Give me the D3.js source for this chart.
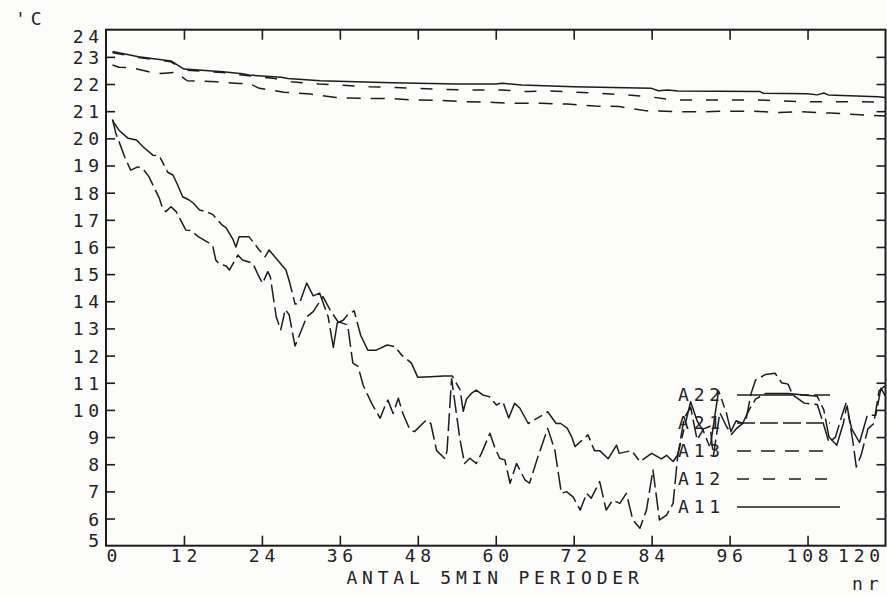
<!DOCTYPE html>
<html lang="en">
<head>
<meta charset="UTF-8">
<title>Temperatur A11 - A22</title>
<script src="https://d3js.org/d3.v7.min.js"></script>
<style>
  body { margin: 0; background: #fcfcfb; }
  svg { display: block; }
  text {
    font-family: "DejaVu Sans Mono", monospace;
    font-size: 18px;
    fill: #222;
    letter-spacing: 4.8px;
  }
  .frame { fill: none; stroke: #1c1c1c; stroke-width: 2; }
  .axis path { display: none; }
  .axis line { stroke: #1c1c1c; stroke-width: 1.6; }
  .series { fill: none; stroke: #1c1c1c; stroke-width: 1.5; stroke-linejoin: round; }
</style>
</head>
<body>
<div id="chart"></div>
<script>
// tick labels
const xTicks = [0, 12, 24, 36, 48, 60, 72, 84, 96, 108, 120];
const yTicks = [5, 6, 7, 8, 9, 10, 11, 12, 13, 14, 15, 16, 17, 18, 19, 20, 21, 22, 23, 24];

// series names in legend order
const names = ["A22", "A21", "A13", "A12", "A11"];

// [period, temperature]
const a11 = [[1,23.2],[5,23.0],[10,22.85],[12,22.55],[18,22.45],[21,22.38],[22,22.33],[27,22.25],[28,22.2],[33,22.12],[44,22.05],[54,22.0],[60,22.0],[61,22.03],[64,21.96],[72,21.9],[84,21.84],[85,21.75],[86.5,21.78],[88,21.74],[100.7,21.72],[101.2,21.66],[108,21.64],[109.5,21.6],[110.5,21.67],[111.2,21.6],[118.8,21.53],[120,21.5]];

const a12 = [[1,23.15],[5,22.98],[10,22.82],[12,22.52],[18,22.42],[22,22.3],[24,22.25],[26,22.2],[28.5,22.08],[32.8,22.0],[36,21.96],[40.5,21.9],[44.6,21.87],[48.2,21.84],[52.3,21.8],[56,21.78],[60.8,21.78],[65,21.72],[68,21.75],[72,21.7],[76,21.66],[80,21.6],[84,21.52],[87.6,21.41],[92,21.41],[96,21.41],[100,21.42],[103.4,21.38],[107.3,21.35],[111.3,21.35],[115.4,21.35],[120,21.33]];

const a13 = [[1,22.7],[2,22.62],[4,22.6],[6.6,22.45],[8.5,22.39],[10.8,22.43],[12.5,22.12],[15,22.1],[17,22.08],[20.5,22.02],[22,22.03],[23.6,21.84],[27.4,21.7],[31.5,21.63],[35.4,21.5],[39.5,21.47],[43.6,21.47],[47.4,21.41],[51.5,21.4],[55.6,21.35],[59.8,21.32],[63,21.29],[67,21.29],[71,21.26],[75.3,21.19],[79,21.17],[83,21.02],[87.6,20.98],[91.8,20.98],[95.6,21.0],[99.8,21.0],[103.6,20.95],[107,20.98],[111.5,20.93],[115.3,20.88],[120,20.82]];

const a21 = [[1,20.7],[1.5,20.2],[2.9,19.3],[3.8,18.83],[4.9,18.95],[5.6,18.9],[6.6,18.59],[8.2,17.8],[8.6,17.5],[9.2,17.3],[10,17.48],[10.8,17.3],[12.3,16.62],[13.1,16.6],[13.6,16.5],[14.2,16.38],[15.1,16.25],[16.4,16.07],[16.9,15.52],[17.4,15.38],[18.5,15.3],[19,15.15],[20.3,15.7],[21,15.52],[22.6,15.4],[23.3,15.03],[24.1,14.66],[24.9,15.09],[25.3,14.9],[26.2,13.43],[26.9,12.95],[27.6,13.7],[28.2,13.5],[29.1,12.35],[30.1,12.94],[30.9,13.43],[31.9,13.62],[33.4,14.17],[34.5,13.68],[35.7,13.25],[37.2,13.13],[38,11.72],[38.8,11.6],[39.6,10.9],[40.9,10.24],[42.2,9.69],[42.9,10.12],[43.4,10.36],[44.2,9.87],[45,10.43],[45.7,9.87],[46.8,9.26],[47.5,9.2],[49.3,9.63],[50,9.5],[50.9,8.5],[52.2,8.2],[52.5,8.5],[53.2,11.15],[54.5,8.9],[55.2,8.03],[56,8.22],[57,8.03],[57.8,8.4],[59.1,9.14],[59.8,8.65],[60.6,8.22],[61.4,8.16],[62.2,7.3],[63.2,8.03],[64.5,7.42],[65.2,7.3],[66.5,8.28],[68,9.32],[69.1,8.52],[70.1,6.93],[70.9,6.99],[71.9,6.8],[73,6.31],[74,6.93],[74.7,6.75],[76,7.36],[77,6.31],[78,6.68],[79.1,6.56],[80.1,6.93],[81.1,5.95],[82.2,5.64],[83.2,6.31],[84.2,7.79],[85.2,5.95],[86.3,6.13],[87.3,6.56],[88,8.28],[89,9.7],[90,10.1],[91,8.9],[92,9.3],[93,9.4],[93.5,8.3],[94.5,9.9],[95.5,9.4],[96.3,9.1],[97,9.3],[98.5,9.6],[99.3,10.6],[100,11.1],[101.5,11.3],[103,11.35],[104,11.0],[105,10.95],[105.7,10.55],[107.5,10.25],[109.5,10.2],[110.3,9.6],[111.3,8.8],[112.3,9.0],[113.3,9.8],[114,10.3],[115,8.8],[115.5,7.9],[116.2,8.3],[117.3,9.3],[118.2,9.5],[119,10.7],[120,10.9]];

const a22 = [[1,20.65],[2,20.3],[3.4,20.0],[4.7,19.94],[5.7,19.69],[7.2,19.38],[8.2,19.35],[8.8,19.08],[9.5,18.75],[10.3,18.65],[11,18.3],[11.8,17.85],[12.8,17.73],[13.5,17.6],[14.4,17.36],[15.4,17.3],[16.4,17.2],[17.9,16.8],[18.5,16.7],[19.5,16.3],[20,16.0],[20.5,16.38],[22,16.38],[23.6,15.89],[24.5,15.64],[25.1,15.89],[27.7,15.15],[28.3,14.67],[29.1,13.9],[29.8,13.93],[30.9,14.67],[31.9,14.2],[32.9,14.3],[34.2,13.43],[35,12.3],[35.6,13.2],[36.5,13.3],[37.2,13.5],[38.2,13.65],[39.2,12.75],[40.3,12.2],[41.6,12.2],[43.3,12.39],[44.5,12.33],[45.5,12.02],[47,11.73],[48,11.2],[50,11.22],[52,11.25],[53.3,11.25],[54.5,10.75],[55,9.95],[55.5,10.4],[56.3,10.62],[57,10.73],[58,10.55],[59,10.49],[60.1,10.18],[61.1,10.3],[62,9.7],[62.9,10.24],[63.7,10.07],[65,9.5],[66.8,9.75],[68,9.93],[69.3,9.5],[70,9.5],[71,9.33],[71.7,9.0],[72.2,8.65],[74.2,9.08],[75.2,8.5],[76,8.5],[77.3,8.2],[78.6,8.7],[79,8.4],[80.9,8.5],[82.2,8.1],[84,8.4],[85.5,8.2],[86.3,8.33],[87.3,8.1],[88,8.34],[89,9.3],[90,10.3],[91,9.6],[92,9.2],[93,8.6],[94.3,10.7],[95.5,9.9],[96.2,9.2],[97,9.6],[98,9.5],[99,10.0],[100,10.4],[101.5,10.6],[105,10.6],[109.5,10.5],[110.5,10.0],[111.3,9.0],[112.5,8.7],[113.5,9.5],[114,10.1],[114.8,9.3],[116,8.8],[117.2,9.8],[118.5,9.8],[119.3,10.8],[120,10.5]];

const seriesData = { A22: a22, A21: a21, A13: a13, A12: a12, A11: a11 };
// plotter pen patterns
const dashes = { A22: "58,5,9,5", A21: "18,5", A13: "14,10", A12: "12,14", A11: null };

const width = 887, height = 595;
const margin = { top: 29.7, right: 1.5, bottom: 49.3, left: 106 };

const svg = d3.select("#chart").append("svg")
    .attr("width", width)
    .attr("height", height);

const x = d3.scaleLinear().domain([0, 120]).range([margin.left, width - margin.right]);
const y = d3.scaleLinear().domain([5, 24]).range([height - margin.bottom, margin.top]);

// frame
svg.append("rect")
    .attr("class", "frame")
    .attr("x", x(0)).attr("y", y(24))
    .attr("width", x(120) - x(0)).attr("height", y(5) - y(24));

// left axis, ticks pointing in
const yAxisL = svg.append("g")
    .attr("class", "axis")
    .attr("transform", `translate(${x(0)},0)`)
    .call(d3.axisLeft(y).tickValues(yTicks).tickSize(-9).tickPadding(2));
yAxisL.selectAll(".tick line").filter(d => d === 5 || d === 24).remove();
// top and bottom labels are pushed inside like on the plotter
yAxisL.selectAll(".tick text")
    .attr("dy", d => d === 24 ? "0.71em" : d === 5 ? "0.04em" : "0.36em");

// right axis
const yAxisR = svg.append("g")
    .attr("class", "axis")
    .attr("transform", `translate(${x(120)},0)`)
    .call(d3.axisRight(y).tickValues(yTicks).tickSize(-9).tickFormat(""));
yAxisR.selectAll(".tick line").filter(d => d === 5 || d === 24).remove();

// bottom axis
const xAxisB = svg.append("g")
    .attr("class", "axis")
    .attr("transform", `translate(0,${y(5)})`)
    .call(d3.axisBottom(x).tickValues(xTicks).tickSize(-10).tickPadding(4));
xAxisB.selectAll(".tick line").filter(d => d === 0 || d === 120).remove();
xAxisB.selectAll(".tick text")
    .attr("text-anchor", d => d === 0 ? "start" : d === 120 ? "end" : "middle")
    .attr("dx", d => d === 120 ? "-1" : d === 0 ? "0" : "2");

// top axis
const xAxisT = svg.append("g")
    .attr("class", "axis")
    .attr("transform", `translate(0,${y(24)})`)
    .call(d3.axisTop(x).tickValues(xTicks).tickSize(-10).tickFormat(""));
xAxisT.selectAll(".tick line").filter(d => d === 0 || d === 120).remove();

// lines
const line = d3.line().x(d => x(d[0])).y(d => y(d[1]));

svg.append("g").selectAll("path")
    .data(names)
    .join("path")
    .attr("class", "series")
    .attr("d", n => line(seriesData[n]))
    .attr("stroke-dasharray", n => dashes[n]);

// legend
const legend = svg.append("g").attr("transform", "translate(678,395)");
const rows = legend.selectAll("g")
    .data(names)
    .join("g")
    .attr("transform", (n, i) => `translate(0,${i * 28})`);
rows.append("text")
    .attr("dy", "0.36em")
    .text(n => n);
rows.append("line")
    .attr("class", "series")
    .attr("x1", 59).attr("x2", n => n === "A11" ? 162 : 152)
    .attr("stroke-dasharray", n => dashes[n]);

// unit and axis titles
svg.append("text").attr("x", 15).attr("y", 25).text("'C");
svg.append("text")
    .attr("x", 495).attr("y", 584)
    .attr("text-anchor", "middle")
    .text("ANTAL 5MIN PERIODER");
svg.append("text").attr("x", 852).attr("y", 590).text("nr");
</script>
</body>
</html>
